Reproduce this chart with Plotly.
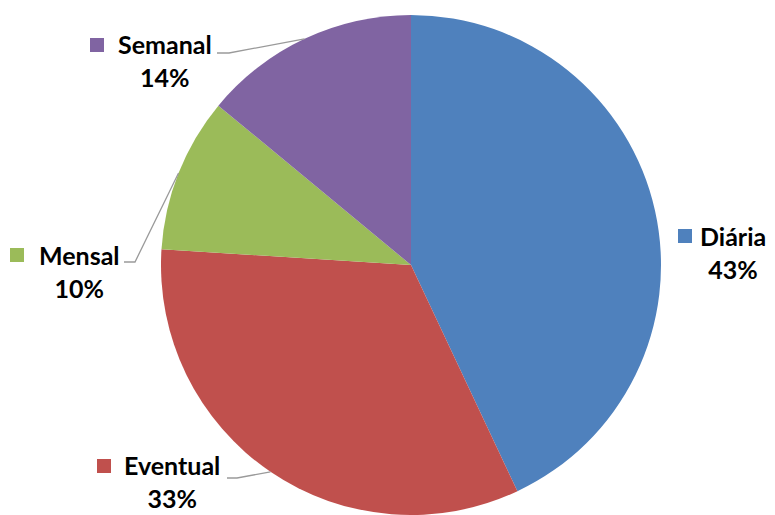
import math
import plotly.graph_objects as go

labels = ["Diária", "Eventual", "Mensal", "Semanal"]
values = [43, 33, 10, 14]
pct_labels = ["43%", "33%", "10%", "14%"]
colors = ["#4F81BD", "#C0504D", "#9BBB59", "#8064A2"]

# page body has an 8px default margin; work in screen pixels and convert
OFF = 8
W, H = 775 - OFF, 515 - OFF
CX, CY, R = 411, 265, 250

def px(x):
    return (x - OFF) / W

def py(y):
    return 1 - (y - OFF) / H

fig = go.Figure(go.Pie(
    labels=labels, values=values, sort=False, direction="clockwise", rotation=0,
    marker=dict(colors=colors, line=dict(color="white", width=0)),
    textinfo="none", hoverinfo="label+percent", showlegend=False,
    domain=dict(x=[px(CX - R), px(CX + R)], y=[max(0, py(CY + R)), min(1, py(CY - R))]),
))

layout_pos = {
    "Diária":   dict(sq=(685, 236), txt=(733, 252), line=None),
    "Eventual": dict(sq=(104, 466), txt=(172, 481), line=[(227, 478), (237, 478)]),
    "Mensal":   dict(sq=(17, 255),  txt=(79, 271),  line=[(124, 262), (135, 262)]),
    "Semanal":  dict(sq=(97, 45),   txt=(165, 61),  line=[(217, 53), (229, 53)]),
}

total = sum(values)
cum = 0
annotations = []
shapes = []
for lab, v, p, c in zip(labels, values, pct_labels, colors):
    mid = 90 - 360 * (cum + v / 2) / total
    cum += v
    pos = layout_pos[lab]
    sx, sy = pos["sq"]
    shapes.append(dict(type="rect", xref="paper", yref="paper",
                       x0=px(sx - 7), x1=px(sx + 7), y0=py(sy + 7), y1=py(sy - 7),
                       fillcolor=c, line=dict(width=0)))
    tx, ty = pos["txt"]
    annotations.append(dict(x=px(tx), y=py(ty), xref="paper", yref="paper",
                            text=f"<b>{lab}</b><br><b>{p}</b>", showarrow=False,
                            xanchor="center", yanchor="middle", align="center",
                            font=dict(family="Lato", size=25, color="#000000")))
    if pos["line"]:
        ex = CX + R * math.cos(math.radians(mid))
        ey = CY - R * math.sin(math.radians(mid))
        pts = pos["line"] + [(ex, ey)]
        path = "M " + " L ".join(f"{px(x)},{py(y)}" for x, y in pts)
        shapes.append(dict(type="path", xref="paper", yref="paper", path=path,
                           line=dict(color="#9a9a9a", width=1.3)))

fig.update_layout(
    width=W, height=H, margin=dict(l=0, r=0, t=0, b=0),
    paper_bgcolor="white", plot_bgcolor="white",
    annotations=annotations, shapes=shapes,
)

fig.write_html("out.html")
